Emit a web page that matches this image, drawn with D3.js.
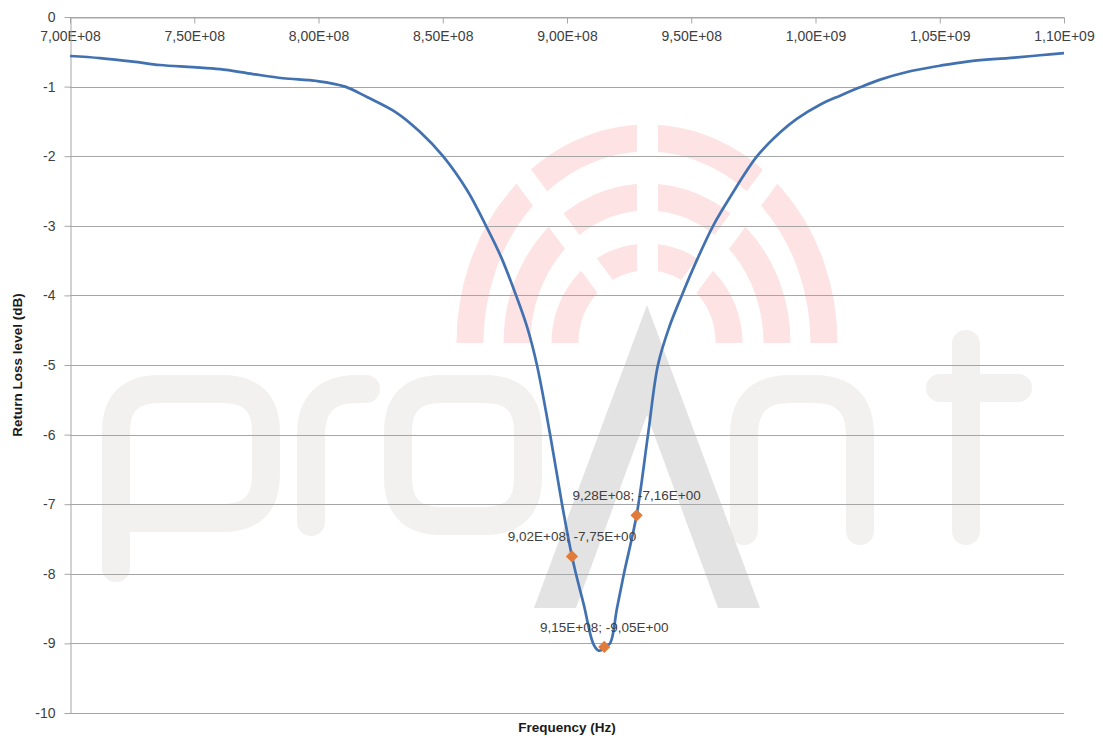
<!DOCTYPE html>
<html>
<head>
<meta charset="utf-8">
<script src="https://cdn.jsdelivr.net/npm/d3@7/dist/d3.min.js"></script>
<style>
  html, body { margin: 0; padding: 0; background: #ffffff; }
  svg { display: block; font-family: "Liberation Sans", Arial, sans-serif; }
</style>
</head>
<body>
<svg id="chart" width="1103" height="738"></svg>
<script>
// ---- data ----
const freqHz = [
  7.000e8, 7.121e8, 7.254e8, 7.362e8, 7.495e8, 7.604e8, 7.736e8, 7.857e8, 7.994e8, 8.107e8,
  8.195e8, 8.316e8, 8.408e8, 8.501e8, 8.598e8, 8.674e8, 8.735e8, 8.795e8, 8.839e8, 8.879e8,
  8.932e8, 8.980e8, 9.020e8, 9.036e8, 9.068e8, 9.105e8, 9.125e8, 9.137e8, 9.150e8, 9.173e8,
  9.201e8, 9.229e8, 9.280e8, 9.326e8, 9.366e8, 9.412e8, 9.462e8, 9.523e8, 9.588e8, 9.656e8,
  9.765e8, 9.857e8, 9.926e8, 1.0018e9, 1.0099e9, 1.0179e9, 1.0260e9, 1.0368e9, 1.0501e9, 1.0610e9,
  1.0811e9, 1.0903e9, 1.1000e9
];
const returnLossDb = [
  -0.56, -0.59, -0.64, -0.69, -0.72, -0.75, -0.82, -0.88, -0.92, -1.00,
  -1.15, -1.38, -1.65, -2.00, -2.49, -3.00, -3.45, -4.00, -4.45, -5.00,
  -6.00, -7.00, -7.75, -8.00, -8.45, -9.00, -9.10, -9.10, -9.05, -9.00,
  -8.50, -8.00, -7.16, -6.00, -5.00, -4.45, -4.00, -3.49, -3.00, -2.59,
  -2.00, -1.66, -1.46, -1.26, -1.13, -1.01, -0.90, -0.79, -0.70, -0.64,
  -0.58, -0.55, -0.52
];
const markerFreqHz = [9.02e8, 9.15e8, 9.28e8];
const markerDb = [-7.75, -9.05, -7.16];
const markerLabels = ["9,02E+08; -7,75E+00", "9,15E+08; -9,05E+00", "9,28E+08; -7,16E+00"];
const xTickValues = [7.0e8, 7.5e8, 8.0e8, 8.5e8, 9.0e8, 9.5e8, 1.0e9, 1.05e9, 1.1e9];
const xTickLabels = ["7,00E+08", "7,50E+08", "8,00E+08", "8,50E+08", "9,00E+08", "9,50E+08", "1,00E+09", "1,05E+09", "1,10E+09"];
const yTickValues = [0, -1, -2, -3, -4, -5, -6, -7, -8, -9, -10];
const xTitle = "Frequency (Hz)";
const yTitle = "Return Loss level (dB)";

// ---- layout ----
const svg = d3.select("#chart");
const plotL = 70, plotR = 1064, plotT = 17, plotB = 713;
const x = d3.scaleLinear().domain([7.0e8, 1.1e9]).range([plotL, plotR]);
const y = d3.scaleLinear().domain([0, -10]).range([plotT, plotB]);

// ---- watermark (background logo) ----
const wm = svg.append("g").attr("class", "watermark");
const cx = 647, cy = 343;
const arcColor = "#fde3e3";
[[177, 205], [130, 146], [82, 86]].forEach(([rx, ry]) => {
  wm.append("path")
    .attr("d", `M${cx - rx},${cy} A${rx},${ry} 0 0 1 ${cx + rx},${cy}`)
    .attr("fill", "none").attr("stroke", arcColor).attr("stroke-width", 27);
});
wm.append("rect").attr("x", 637).attr("y", 100).attr("width", 21).attr("height", cy - 100).attr("fill", "#fff");
[-1, 1].forEach(s => {
  const ang = 36.5 * Math.PI / 180;
  wm.append("line")
    .attr("x1", cx).attr("y1", cy)
    .attr("x2", cx + s * 300 * Math.sin(ang)).attr("y2", cy - 300 * Math.cos(ang))
    .attr("stroke", "#fff").attr("stroke-width", 20);
});
const letterColor = "#f2f1ef";
const letters = [
  "M116,568 V432 Q116,389 159,389 H223 Q266,389 266,432 V475 Q266,518 223,518 H116",
  "M311,522 V435 Q311,389 357,389 H366",
  "M398,432 Q398,389 441,389 H485 Q528,389 528,432 V478 Q528,521 485,521 H441 Q398,521 398,478 Z",
  "M744,531 V435 Q744,389 790,389 H814 Q860,389 860,435 V531",
  "M966,344 V531",
  "M940,388 H1018"
];
letters.forEach(d => {
  wm.append("path").attr("d", d).attr("fill", "none")
    .attr("stroke", letterColor).attr("stroke-width", 28)
    .attr("stroke-linecap", "round").attr("stroke-linejoin", "round");
});
wm.append("path")
  .attr("d", "M647,305 L760,608 L718,608 L647,415 L576,608 L534,608 Z")
  .attr("fill", "#e3e3e3");

// ---- grid ----
svg.append("g").selectAll("line")
  .data(yTickValues)
  .join("line")
  .attr("x1", plotL).attr("x2", plotR)
  .attr("y1", d => Math.round(y(d)) + 0.5).attr("y2", d => Math.round(y(d)) + 0.5)
  .attr("stroke", "#a6a6a6").attr("stroke-width", 1);

// ---- axes ----
const xAxis = d3.axisBottom(x).tickValues(xTickValues)
  .tickFormat((d, i) => xTickLabels[i]).tickSizeInner(6).tickSizeOuter(0).tickPadding(8);
const gx = svg.append("g").attr("transform", `translate(0,${Math.round(y(0)) + 0.5})`).call(xAxis);
gx.select(".domain").attr("stroke", "#a6a6a6");
gx.selectAll(".tick line").attr("stroke", "#a6a6a6");
gx.selectAll(".tick text").attr("fill", "#404040").attr("font-size", 14)
  .attr("font-family", "Liberation Sans, Arial, sans-serif");

const yAxis = d3.axisLeft(y).tickValues(yTickValues)
  .tickFormat(d => String(d)).tickSizeInner(6).tickSizeOuter(0).tickPadding(9);
const gy = svg.append("g").attr("transform", `translate(${plotL + 0.5},0)`).call(yAxis);
gy.select(".domain").attr("stroke", "#a6a6a6");
gy.selectAll(".tick line").attr("stroke", "#a6a6a6");
gy.selectAll(".tick text").attr("fill", "#404040").attr("font-size", 14)
  .attr("font-family", "Liberation Sans, Arial, sans-serif");

// ---- titles ----
svg.append("text").attr("x", 567).attr("y", 732).attr("text-anchor", "middle")
  .attr("font-size", 13.5).attr("font-weight", "bold").attr("fill", "#1a1a1a").text(xTitle);
svg.append("text").attr("transform", "translate(22,365) rotate(-90)").attr("text-anchor", "middle")
  .attr("font-size", 13.5).attr("font-weight", "bold").attr("fill", "#1a1a1a").text(yTitle);

// ---- series ----
const series = freqHz.map((f, i) => ({ f, v: returnLossDb[i] }));
svg.append("path").datum(series)
  .attr("fill", "none").attr("stroke", "#4271b1").attr("stroke-width", 2.7)
  .attr("stroke-linejoin", "round")
  .attr("d", d3.line().x(d => x(d.f)).y(d => y(d.v)).curve(d3.curveCatmullRom.alpha(0.5)));

// ---- markers ----
const markers = markerFreqHz.map((f, i) => ({ f, v: markerDb[i], label: markerLabels[i] }));
svg.append("g").selectAll("path").data(markers).join("path")
  .attr("transform", d => `translate(${x(d.f)},${y(d.v)})`)
  .attr("d", d3.symbol().type(d3.symbolDiamond2).size(95))
  .attr("fill", "#e07b39");
svg.append("g").selectAll("text").data(markers).join("text")
  .attr("x", d => x(d.f)).attr("y", d => y(d.v) - 15)
  .attr("text-anchor", "middle").attr("font-size", 13.5).attr("fill", "#404040")
  .text(d => d.label);
</script>
</body>
</html>
